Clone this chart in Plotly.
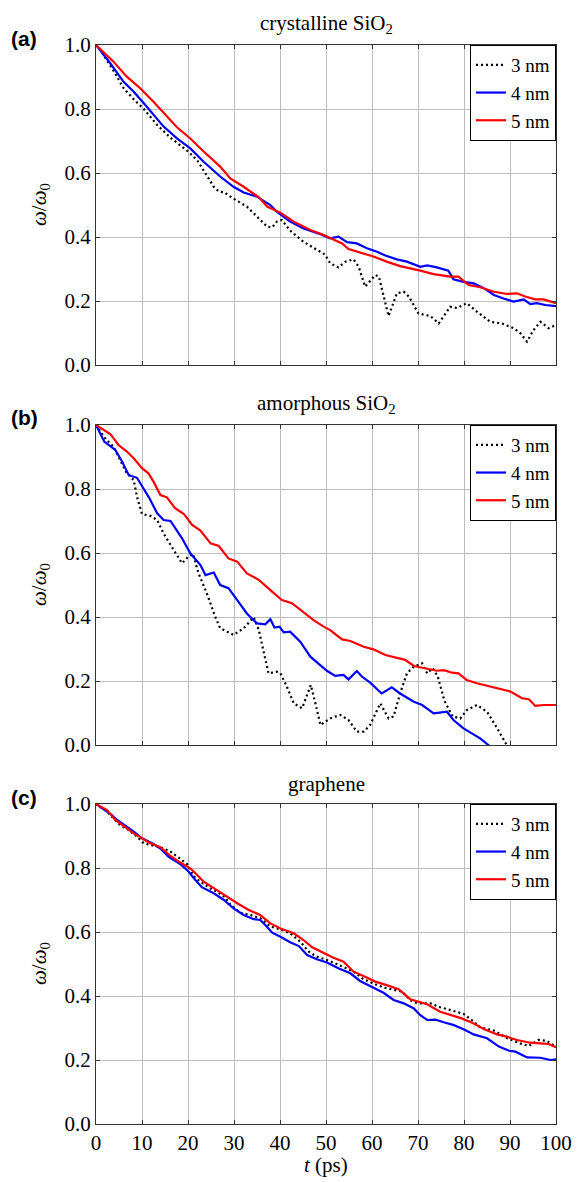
import plotly.graph_objects as go

# ---------------- data ----------------
ticks_x = [0, 10, 20, 30, 40, 50, 60, 70, 80, 90, 100]
ticks_y = [0.0, 0.2, 0.4, 0.6, 0.8, 1.0]
series_names = ["3 nm", "4 nm", "5 nm"]
panel_titles = ["crystalline SiO<sub>2</sub>", "amorphous SiO<sub>2</sub>", "graphene"]
panel_labels = ["(a)", "(b)", "(c)"]

# panel (a) crystalline SiO2
t_a_3 = [0, 1, 2, 3.8, 6, 8.2, 10.4, 13.3, 16.2, 19.8, 22, 24.1, 25.6, 26.7, 27.8, 29.9, 32.8, 35, 37.2, 38.3, 39.3, 40.4, 42.2, 45.1, 48, 49.8, 50.9, 52.7, 54.2, 56, 57.1, 58.5, 60.7, 61.5, 63.6, 65.4, 66.9, 68, 70.1, 72.7, 74.5, 77, 78.5, 80.6, 82.8, 85.7, 88.2, 90.8, 92.2, 93.7, 95.1, 96.6, 98.4, 100]
v_a_3 = [1.0, 0.985, 0.96, 0.92, 0.865, 0.83, 0.80, 0.75, 0.71, 0.67, 0.64, 0.594, 0.557, 0.542, 0.54, 0.52, 0.495, 0.464, 0.432, 0.43, 0.448, 0.453, 0.42, 0.385, 0.36, 0.345, 0.318, 0.305, 0.323, 0.33, 0.307, 0.245, 0.281, 0.276, 0.153, 0.224, 0.229, 0.214, 0.161, 0.153, 0.13, 0.182, 0.178, 0.193, 0.167, 0.135, 0.13, 0.115, 0.1, 0.073, 0.109, 0.135, 0.115, 0.125]
t_a_4 = [0, 3.1, 6, 8.2, 10.4, 12.5, 14.7, 17.6, 20.5, 23.4, 27, 29.9, 32.1, 35, 37.9, 39.3, 42.2, 45.1, 48.8, 50.9, 52.7, 54.6, 56.7, 58.9, 61.1, 62.9, 65.4, 67.6, 70.5, 72, 74.1, 76.6, 77.7, 79.9, 82.1, 84.3, 86.5, 88.6, 90.8, 93, 94.4, 95.8, 97.7, 100]
v_a_4 = [1.0, 0.943, 0.885, 0.854, 0.818, 0.781, 0.745, 0.708, 0.677, 0.635, 0.589, 0.557, 0.539, 0.526, 0.5, 0.479, 0.448, 0.427, 0.409, 0.396, 0.401, 0.384, 0.38, 0.365, 0.354, 0.342, 0.33, 0.323, 0.307, 0.311, 0.305, 0.295, 0.268, 0.26, 0.255, 0.24, 0.219, 0.208, 0.198, 0.205, 0.19, 0.193, 0.1875, 0.184]
t_a_5 = [0, 3.8, 6.7, 9.6, 12.5, 15.4, 17.6, 20.5, 23.4, 27, 29.2, 32.1, 35.4, 37.2, 40.1, 43, 46.6, 49.5, 51.5, 53.5, 54.9, 57.4, 60.3, 63.2, 66.1, 70.5, 73.4, 77, 78.8, 81, 83.5, 86.5, 89.4, 91.5, 93.3, 95.5, 97.3, 100]
v_a_5 = [1.0, 0.948, 0.901, 0.865, 0.823, 0.776, 0.743, 0.708, 0.667, 0.62, 0.583, 0.557, 0.524, 0.495, 0.476, 0.448, 0.422, 0.406, 0.393, 0.38, 0.3625, 0.351, 0.339, 0.323, 0.309, 0.295, 0.284, 0.276, 0.276, 0.25, 0.243, 0.229, 0.222, 0.224, 0.214, 0.205, 0.205, 0.193]

# panel (b) amorphous SiO2
t_b_3 = [0, 2, 3.8, 5.3, 6.7, 8.2, 8.9, 10, 11.8, 13.3, 14.7, 16.9, 18.7, 20.1, 21.1, 22.3, 24.1, 25.9, 27, 28.5, 29.9, 32.1, 34.3, 35.4, 36.4, 37.5, 39.3, 40.1, 41.5, 43, 44.8, 45.9, 46.7, 47.7, 48.8, 50.9, 53.1, 54.9, 56.7, 58.2, 59.6, 61.8, 63.6, 64.7, 66.1, 67.6, 69.1, 70.9, 72, 73.2, 74.3, 75.7, 77.5, 79.2, 80.6, 82.8, 85, 86.8, 88.6, 89.3, 90]
v_b_3 = [1.0, 0.958, 0.932, 0.89, 0.849, 0.828, 0.776, 0.722, 0.716, 0.703, 0.661, 0.609, 0.568, 0.589, 0.597, 0.536, 0.474, 0.401, 0.365, 0.354, 0.344, 0.365, 0.399, 0.359, 0.297, 0.224, 0.229, 0.224, 0.182, 0.13, 0.115, 0.156, 0.1875, 0.13, 0.0625, 0.083, 0.094, 0.078, 0.042, 0.042, 0.0625, 0.13, 0.083, 0.089, 0.161, 0.224, 0.245, 0.255, 0.224, 0.24, 0.214, 0.14, 0.089, 0.083, 0.109, 0.125, 0.104, 0.0625, 0.016, 0.0, -0.01]
t_b_4 = [0, 1.8, 3.1, 4.2, 5.7, 7.1, 8.9, 10.4, 11.5, 13.3, 14.7, 16.2, 18.7, 20.5, 22.7, 23.8, 25.6, 27, 28.8, 30.7, 32.8, 35, 36.8, 37.9, 38.8, 39.9, 40.8, 42.2, 44.4, 46.6, 48.8, 50.2, 52, 53.8, 54.9, 56.7, 57.8, 59.6, 62.1, 64.3, 66.1, 69.1, 70.9, 73.4, 76.3, 77.7, 79.9, 81.7, 83.5, 85.3, 86.5]
v_b_4 = [1.0, 0.948, 0.934, 0.922, 0.885, 0.844, 0.835, 0.802, 0.774, 0.724, 0.703, 0.7, 0.646, 0.599, 0.5625, 0.531, 0.539, 0.5, 0.49, 0.453, 0.411, 0.38, 0.377, 0.393, 0.367, 0.37, 0.352, 0.354, 0.323, 0.276, 0.248, 0.232, 0.216, 0.219, 0.205, 0.231, 0.214, 0.195, 0.161, 0.18, 0.161, 0.135, 0.125, 0.099, 0.104, 0.078, 0.052, 0.036, 0.021, 0.0, -0.015]
t_b_5 = [0, 2, 3.1, 4.9, 6.7, 8.2, 10, 11.4, 12.5, 14, 15.4, 17.2, 19.1, 20.9, 22.7, 24.9, 26.7, 28.8, 30.7, 32.8, 35.4, 37.9, 40.4, 42.6, 45.1, 47.3, 49.5, 50.9, 53.5, 55.3, 58.2, 60.3, 62.9, 65.4, 67.2, 69.1, 71.2, 74.1, 75.6, 77.4, 78.8, 80.6, 82.8, 85.7, 88.2, 90.1, 92.6, 94.1, 95.5, 97.3, 100]
v_b_5 = [1.0, 0.982, 0.972, 0.9375, 0.917, 0.896, 0.865, 0.849, 0.823, 0.781, 0.774, 0.74, 0.722, 0.6875, 0.67, 0.63, 0.622, 0.583, 0.573, 0.536, 0.516, 0.484, 0.453, 0.443, 0.414, 0.39, 0.37, 0.359, 0.33, 0.325, 0.307, 0.299, 0.281, 0.271, 0.266, 0.247, 0.24, 0.232, 0.234, 0.226, 0.224, 0.203, 0.193, 0.182, 0.174, 0.167, 0.146, 0.143, 0.122, 0.125, 0.125]

# panel (c) graphene
t_c_3 = [0, 2.4, 3.8, 5.3, 7.1, 8.9, 10.4, 11.8, 14, 16.2, 18.3, 19.8, 21.2, 22.7, 24.9, 26.3, 28.1, 29.2, 31.4, 33.6, 35.7, 37.9, 40.1, 42.2, 44.4, 46.2, 48, 50.2, 52.8, 56, 58.2, 61.1, 63.2, 66.5, 68.3, 69.8, 72.7, 74.8, 77.1, 79.9, 82.1, 83.5, 86.5, 89.4, 92.2, 94.1, 96.2, 98, 100]
v_c_3 = [1.0, 0.976, 0.955, 0.934, 0.919, 0.898, 0.877, 0.872, 0.865, 0.851, 0.83, 0.8125, 0.775, 0.757, 0.736, 0.726, 0.708, 0.686, 0.66, 0.653, 0.643, 0.617, 0.608, 0.596, 0.57, 0.539, 0.523, 0.5125, 0.497, 0.476, 0.452, 0.434, 0.424, 0.414, 0.3875, 0.377, 0.377, 0.365, 0.356, 0.344, 0.32, 0.302, 0.292, 0.268, 0.252, 0.244, 0.2625, 0.26, 0.24]
t_c_4 = [0, 3.1, 4.6, 6.7, 8.2, 10, 12.5, 14, 15.8, 18.3, 20.1, 21.6, 23, 25.6, 27.8, 29.9, 32.1, 34.3, 35.7, 36.8, 38.3, 40.1, 42.2, 44.1, 45.9, 48, 50.2, 52.8, 55.3, 57.4, 60, 62.5, 64.7, 66.9, 69.1, 70.5, 72, 73.8, 75.6, 77.8, 79.9, 82.1, 85, 87.6, 89.8, 91.2, 93.7, 96.6, 98.8, 100]
v_c_4 = [1.0, 0.969, 0.95, 0.929, 0.914, 0.893, 0.875, 0.861, 0.835, 0.8125, 0.789, 0.7625, 0.74, 0.721, 0.7, 0.674, 0.653, 0.64, 0.6375, 0.622, 0.598, 0.585, 0.568, 0.556, 0.528, 0.515, 0.505, 0.486, 0.471, 0.447, 0.429, 0.41, 0.3875, 0.377, 0.361, 0.34, 0.325, 0.326, 0.318, 0.309, 0.296, 0.28, 0.268, 0.242, 0.229, 0.226, 0.208, 0.207, 0.2, 0.202]
t_c_5 = [0, 2.4, 4.2, 6, 8.2, 10, 11.8, 14, 16.2, 18.3, 20.5, 22, 23.4, 26.3, 28.5, 30.7, 33.2, 35.7, 37.9, 40.1, 43, 45.1, 47, 49.5, 51.5, 53.8, 56, 58.5, 60.7, 63.2, 65.8, 68.3, 70.5, 72, 74.8, 77.1, 79.5, 82, 84.3, 87.2, 89.3, 91.5, 94.4, 96.6, 98.4, 100]
v_c_5 = [1.0, 0.981, 0.95, 0.931, 0.908, 0.893, 0.877, 0.865, 0.8375, 0.817, 0.799, 0.778, 0.757, 0.731, 0.71, 0.69, 0.669, 0.653, 0.627, 0.611, 0.596, 0.575, 0.552, 0.533, 0.52, 0.507, 0.476, 0.46, 0.445, 0.434, 0.421, 0.39, 0.38, 0.374, 0.351, 0.341, 0.33, 0.315, 0.297, 0.28, 0.273, 0.2625, 0.254, 0.252, 0.25, 0.24]

panels = [
    [(t_a_3, v_a_3), (t_a_4, v_a_4), (t_a_5, v_a_5)],
    [(t_b_3, v_b_3), (t_b_4, v_b_4), (t_b_5, v_b_5)],
    [(t_c_3, v_c_3), (t_c_4, v_c_4), (t_c_5, v_c_5)],
]

# ---------------- styling ----------------
W, H = 584, 1182
ML, MR, MT, MB = 96, 28, 45, 58
PH = H - MT - MB  # plot height in px


def py(ypix):
    return (H - MB - ypix) / PH


domains = [[py(365), py(45)], [py(745), py(425)], [py(1124), py(804)]]
line_styles = [
    dict(color="black", width=2.2, dash="2px,3px"),
    dict(color="#0000ff", width=2.2),
    dict(color="#ff0000", width=2.2),
]
SERIF = "Liberation Serif"
grid_col = "#bdbdbd"
frame_col = "#333333"

fig = go.Figure()
for p, series in enumerate(panels):
    sfx = "" if p == 0 else str(p + 1)
    legname = "legend" + sfx
    for s, (tt, vv) in enumerate(series):
        fig.add_trace(go.Scatter(
            x=tt, y=vv, mode="lines", name=series_names[s],
            line=line_styles[s], xaxis="x" + sfx, yaxis="y" + sfx,
            legend=legname, showlegend=True,
        ))

layout = dict(
    width=W, height=H,
    margin=dict(l=ML, r=MR, t=MT, b=MB),
    paper_bgcolor="white", plot_bgcolor="white",
    font=dict(family=SERIF, size=20, color="black"),
)
annotations = []
for p in range(3):
    sfx = "" if p == 0 else str(p + 1)
    layout["xaxis" + sfx] = dict(
        domain=[0, 1], anchor="y" + sfx, range=[0, 100],
        tickvals=ticks_x, ticktext=[str(v) for v in ticks_x],
        showticklabels=(p == 2),
        showgrid=True, gridcolor=grid_col, gridwidth=1,
        showline=True, linecolor=frame_col, linewidth=1.3, mirror="ticks",
        ticks="inside", ticklen=4, tickcolor=frame_col,
        zeroline=False, tickfont=dict(family=SERIF, size=21),
    )
    layout["yaxis" + sfx] = dict(
        domain=domains[p], anchor="x" + sfx, range=[0, 1],
        tickvals=ticks_y, ticktext=["%.1f" % v for v in ticks_y],
        showgrid=True, gridcolor=grid_col, gridwidth=1,
        showline=True, linecolor=frame_col, linewidth=1.3, mirror="ticks",
        ticks="inside", ticklen=4, tickcolor=frame_col,
        zeroline=False, tickfont=dict(family=SERIF, size=21),
    )
    layout["legend" + sfx] = dict(
        x=1, y=domains[p][1], xanchor="right", yanchor="top",
        xref="paper", yref="paper",
        bordercolor="black", borderwidth=1, bgcolor="white",
        font=dict(family=SERIF, size=19), itemwidth=30, tracegroupgap=0,
    )
    top = domains[p][1]
    mid = (domains[p][0] + domains[p][1]) / 2
    annotations.append(dict(
        text=panel_titles[p], xref="paper", yref="paper", x=0.5, y=top,
        xanchor="center", yanchor="bottom", yshift=6, showarrow=False,
        font=dict(family=SERIF, size=21),
    ))
    annotations.append(dict(
        text="<b>" + panel_labels[p] + "</b>", xref="paper", yref="paper",
        x=(24 - ML) / (W - ML - MR), y=top, xanchor="center", yanchor="middle",
        yshift=7, showarrow=False,
        font=dict(family="Liberation Sans", size=21),
    ))
    annotations.append(dict(
        text="<i>ω</i>/<i>ω</i><sub>0</sub>", xref="paper", yref="paper",
        x=(40 - ML) / (W - ML - MR), y=mid, xanchor="center", yanchor="middle",
        textangle=-90, showarrow=False, font=dict(family=SERIF, size=21),
    ))
annotations.append(dict(
    text="<i>t</i> (ps)", xref="paper", yref="paper", x=0.5, y=py(1165),
    xanchor="center", yanchor="middle", showarrow=False,
    font=dict(family=SERIF, size=21),
))
layout["annotations"] = annotations
fig.update_layout(**layout)

fig.write_html(
    "out.html",
    config={"displayModeBar": False},
    post_script="document.body.style.margin='0';document.body.style.padding='0';",
)
